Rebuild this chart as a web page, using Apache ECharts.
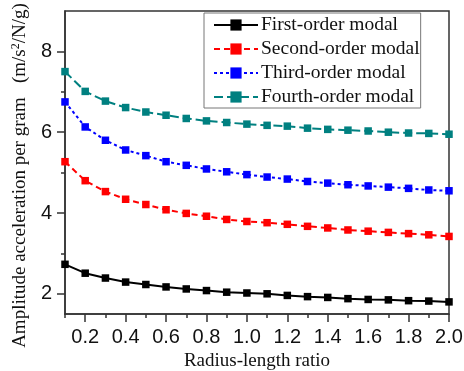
<!DOCTYPE html>
<html>
<head>
<meta charset="utf-8">
<script src="https://cdn.jsdelivr.net/npm/echarts@6/dist/echarts.min.js"></script>
<style>html,body{margin:0;padding:0;background:#fff}#c{width:464px;height:371px}</style>
</head>
<body>
<div id="c"></div>
<script>
const ratios = [0.1,0.2,0.3,0.4,0.5,0.6,0.7,0.8,0.9,1.0,1.1,1.2,1.3,1.4,1.5,1.6,1.7,1.8,1.9,2.0];
const firstOrder  = [2.73,2.51,2.39,2.29,2.23,2.17,2.12,2.08,2.04,2.02,2.00,1.96,1.93,1.91,1.88,1.86,1.85,1.83,1.82,1.80];
const secondOrder = [5.27,4.80,4.53,4.34,4.21,4.08,3.99,3.92,3.84,3.79,3.76,3.72,3.67,3.63,3.58,3.55,3.52,3.49,3.46,3.42];
const thirdOrder  = [6.75,6.13,5.80,5.56,5.42,5.27,5.18,5.09,5.02,4.95,4.89,4.84,4.78,4.74,4.70,4.67,4.64,4.61,4.57,4.55];
const fourthOrder = [7.50,7.01,6.77,6.61,6.50,6.42,6.34,6.28,6.24,6.20,6.17,6.15,6.10,6.07,6.05,6.03,6.00,5.98,5.97,5.95];
const seriesNames = ['First-order modal','Second-order modal','Third-order modal','Fourth-order modal'];
const xMajorTicks = [0.2,0.4,0.6,0.8,1.0,1.2,1.4,1.6,1.8,2.0];
const xMinorTicks = [0.1,0.3,0.5,0.7,0.9,1.1,1.3,1.5,1.7,1.9];
const yMajorTicks = [2,4,6,8];
const yMinorTicks = [3,5,7];

const serif = '"Liberation Serif","Times New Roman",serif';
const sans = '"Liberation Sans",Arial,sans-serif';
const colors = ['#000000','#ff0000','#0000ff','#008080'];
const dashes = ['solid',[6,4],[3,3],[9,4]];
const allData = [firstOrder, secondOrder, thirdOrder, fourthOrder];

const chart = echarts.init(document.getElementById('c'), null, {renderer:'canvas'});
const axisLineStyle = {color:'#333', width:1.5};
chart.setOption({
  animation:false,
  backgroundColor:'#fff',
  grid:{left:65, right:15, top:11, bottom:57, containLabel:false, outerBoundsMode:'none',
    show:true, borderColor:'#333', borderWidth:1.5, backgroundColor:'transparent'},
  legend:{
    orient:'vertical', left:204, top:13,
    padding:[2,1,1,9], itemGap:4, itemWidth:44, itemHeight:14,
    backgroundColor:'#fff', borderColor:'#777', borderWidth:1,
    textStyle:{fontFamily:serif, fontSize:19.5, lineHeight:20, color:'#111', padding:[0,0,0,-2]},
    data:seriesNames
  },
  xAxis:[{
    type:'value', position:'bottom', min:0.1, max:2.0,
    name:'Radius-length ratio', nameLocation:'middle', nameGap:33,
    nameTextStyle:{fontFamily:serif, fontSize:19, color:'#111'},
    axisLine:{show:true, lineStyle:axisLineStyle},
    axisTick:{show:true, length:8, customValues:xMajorTicks, lineStyle:axisLineStyle},
    axisLabel:{customValues:xMajorTicks, margin:13, fontFamily:sans, fontSize:20, color:'#111',
      formatter:v=>v.toFixed(1)},
    splitLine:{show:false}
  },{
    type:'value', position:'bottom', min:0.1, max:2.0,
    axisLine:{show:false},
    axisTick:{show:true, length:4, customValues:xMinorTicks, lineStyle:axisLineStyle},
    axisLabel:{show:false}, splitLine:{show:false}
  }],
  yAxis:[{
    type:'value', position:'left', min:1.5, max:9,
    name:'Amplitude acceleration per gram   (m/s{sup|2}/N/g)',
    nameLocation:'middle', nameGap:34,
    nameTextStyle:{fontFamily:serif, fontSize:19, color:'#111', padding:[0,26,0,0],
      rich:{sup:{fontFamily:serif, fontSize:12, color:'#111', verticalAlign:'top', padding:[0,0,9,0]}}},
    axisLine:{show:true, lineStyle:axisLineStyle},
    axisTick:{show:true, length:8, customValues:yMajorTicks, lineStyle:axisLineStyle},
    axisLabel:{customValues:yMajorTicks, margin:13, fontFamily:sans, fontSize:20, color:'#111'},
    splitLine:{show:false}
  },{
    type:'value', position:'left', min:1.5, max:9,
    axisLine:{show:false},
    axisTick:{show:true, length:4, customValues:yMinorTicks, lineStyle:axisLineStyle},
    axisLabel:{show:false}, splitLine:{show:false}
  }],
  series: seriesNames.map((n,i)=>({
    name:n, type:'line', xAxisIndex:0, yAxisIndex:0,
    data: ratios.map((r,k)=>[r, allData[i][k]]),
    symbol:'rect', symbolSize:7.5, showSymbol:true,
    itemStyle:{color:colors[i]},
    lineStyle:{color:colors[i], width:2, type:dashes[i]},
    clip:false
  }))
});
</script>
</body>
</html>
